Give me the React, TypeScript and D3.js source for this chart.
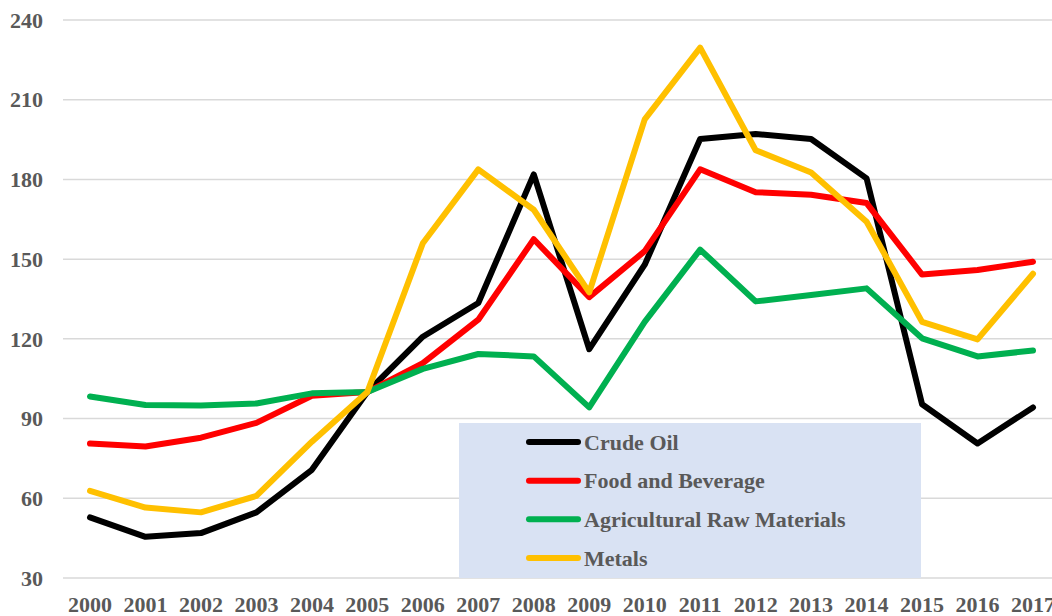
import React, { useEffect, useRef } from "react";
import * as d3 from "d3";

// years on the x axis
const years = [
  "2000", "2001", "2002", "2003", "2004", "2005", "2006", "2007", "2008",
  "2009", "2010", "2011", "2012", "2013", "2014", "2015", "2016", "2017",
];

// index values (2005 = 100)
const crudeOil = [52.8, 45.5, 46.9, 54.7, 70.7, 100, 120.8, 133.5, 181.9, 116.1, 147.9, 195.2, 197.1, 195.2, 180.4, 95.4, 80.6, 94.2];
const foodBeverage = [80.6, 79.5, 82.8, 88.4, 98.6, 100, 110.9, 127.2, 157.5, 135.7, 153.0, 183.8, 175.2, 174.2, 171.1, 144.2, 145.9, 149.0];
const agriRaw = [98.3, 95.1, 94.9, 95.7, 99.5, 100, 108.7, 114.3, 113.4, 94.2, 126.4, 153.6, 134.1, 136.5, 139.0, 120.2, 113.4, 115.6];
const metals = [62.8, 56.5, 54.7, 60.9, 81.3, 100, 156.0, 183.8, 168.6, 137.5, 202.6, 229.6, 191.0, 182.6, 164.1, 126.4, 119.8, 144.5];

const yTicks = [30, 60, 90, 120, 150, 180, 210, 240];

const seriesNames = ["Crude Oil", "Food and Beverage", "Agricultural Raw Materials", "Metals"];
const seriesColors = ["#000000", "#FF0000", "#00B050", "#FFC000"];

const App = () => {
  const ref = useRef<SVGSVGElement>(null);

  useEffect(() => {
    const width = 1052,
      height = 616;
    const font = "'Liberation Serif', 'Times New Roman', serif";
    const textColor = "#595959";

    const svg = d3.select(ref.current);
    svg.selectAll("*").remove();

    const x = d3.scalePoint<string>().domain(years).range([90, 1033]);
    const y = d3.scaleLinear().domain([30, 240]).range([578, 20]);

    // gridlines
    svg
      .append("g")
      .selectAll("line")
      .data(yTicks)
      .enter()
      .append("line")
      .attr("x1", 63)
      .attr("x2", width)
      .attr("y1", (d) => y(d))
      .attr("y2", (d) => y(d))
      .attr("stroke", "#D9D9D9")
      .attr("stroke-width", 1.5);

    // y labels
    svg
      .append("g")
      .selectAll("text")
      .data(yTicks)
      .enter()
      .append("text")
      .attr("x", 43)
      .attr("y", (d) => y(d))
      .attr("dy", "0.35em")
      .attr("text-anchor", "end")
      .attr("font-family", font)
      .attr("font-weight", "bold")
      .attr("font-size", 22)
      .attr("fill", textColor)
      .text((d) => d);

    // x labels
    svg
      .append("g")
      .selectAll("text")
      .data(years)
      .enter()
      .append("text")
      .attr("x", (d) => x(d) as number)
      .attr("y", 612)
      .attr("text-anchor", "middle")
      .attr("font-family", font)
      .attr("font-weight", "bold")
      .attr("font-size", 22)
      .attr("fill", textColor)
      .text((d) => d);

    // lines
    const allSeries = [crudeOil, foodBeverage, agriRaw, metals];
    const line = d3
      .line<number>()
      .x((_, i) => x(years[i]) as number)
      .y((d) => y(d));

    allSeries.forEach((values, i) => {
      svg
        .append("path")
        .datum(values)
        .attr("d", line)
        .attr("fill", "none")
        .attr("stroke", seriesColors[i])
        .attr("stroke-width", 6)
        .attr("stroke-linejoin", "round")
        .attr("stroke-linecap", "round");
    });

    // legend
    const legend = svg.append("g");
    legend
      .append("rect")
      .attr("x", 459)
      .attr("y", 423)
      .attr("width", 462)
      .attr("height", 155)
      .attr("fill", "#D9E2F3");

    const rowY = d3.scalePoint<string>().domain(seriesNames).range([442, 558]);
    seriesNames.forEach((name, i) => {
      const ry = rowY(name) as number;
      legend
        .append("line")
        .attr("x1", 529)
        .attr("x2", 578)
        .attr("y1", ry)
        .attr("y2", ry)
        .attr("stroke", seriesColors[i])
        .attr("stroke-width", 6)
        .attr("stroke-linecap", "round");
      legend
        .append("text")
        .attr("x", 584)
        .attr("y", ry)
        .attr("dy", "0.35em")
        .attr("font-family", font)
        .attr("font-weight", "bold")
        .attr("font-size", 22)
        .attr("fill", textColor)
        .text(name);
    });
  }, []);

  return (
    <svg
      ref={ref}
      width={1052}
      height={616}
      style={{ position: "absolute", left: 0, top: 0, background: "#fff" }}
    ></svg>
  );
};

export default App;
